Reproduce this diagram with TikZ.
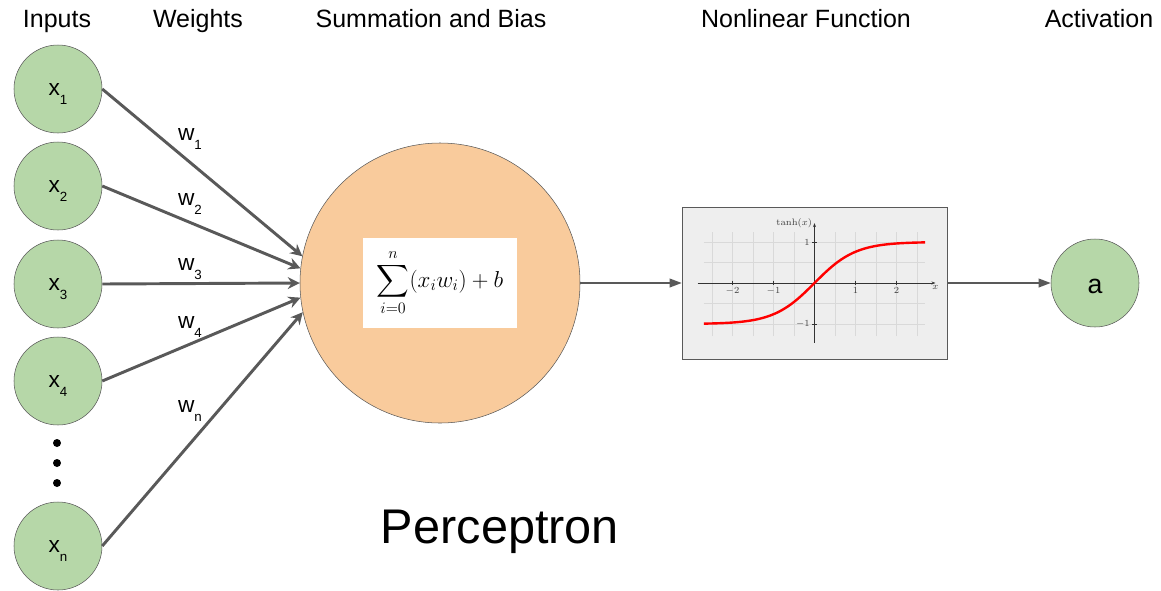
\documentclass[tikz,border=0pt]{standalone}
\usepackage{amsmath}
\usepackage{amsfonts}
\usepackage[no-math]{fontspec}
\setmainfont{Liberation Sans}
\usepackage{tikz}
\usepackage{xcolor}
\usetikzlibrary{arrows.meta}

\definecolor{inputgreen}{HTML}{B6D7A8}
\definecolor{sumorange}{HTML}{F9CB9C}
\definecolor{edgegray}{HTML}{595959}
\definecolor{plotgray}{HTML}{EEEEEE}

\newcommand{\lowsub}[2]{#1\raisebox{-7pt}{\fontsize{10pt}{11pt}\selectfont #2}}

\begin{document}
\begin{tikzpicture}[x=0.75pt, y=0.75pt,
    unit/.style={circle, draw=edgegray, fill=inputgreen, minimum size=66pt, inner sep=0pt, font=\fontsize{17pt}{20pt}\selectfont, text height=9pt, text depth=0pt},
    head/.style={font=\fontsize{18.75pt}{22pt}\selectfont, anchor=base},
    weight/.style={font=\fontsize{17pt}{20pt}\selectfont, anchor=base},
    feed/.style={draw=edgegray, line width=2.2pt, -{Stealth[length=9pt, width=9pt, inset=3pt]}},
    pass/.style={draw=edgegray, line width=1.1pt, -{Triangle[length=9pt, width=6.5pt]}},
    tick/.style={font=\fontsize{7.5pt}{8pt}\selectfont, text=black!75, inner sep=1.5pt}]
\useasboundingbox (0,0) rectangle (1161,-590);

\node[head] (hin) at (57,-27) {Inputs};
\node[head] (hw) at (198,-27) {Weights};
\node[head] (hsum) at (431,-27) {Summation and Bias};
\node[head] (hnl) at (806,-27) {Nonlinear Function};
\node[head] (hact) at (1099,-27) {Activation};

\node[unit] (x1) at (58,-89) {\lowsub{x}{1}};
\node[unit] (x2) at (58,-186) {\lowsub{x}{2}};
\node[unit] (x3) at (58,-284) {\lowsub{x}{3}};
\node[unit] (x4) at (58,-381) {\lowsub{x}{4}};
\node[unit] (xn) at (58,-546) {\lowsub{x}{n}};
\foreach \y in {443,463,483}
    \fill (57,-\y) circle (3pt);

\node[circle, draw=edgegray, fill=sumorange, minimum size=210pt] (sum) at (440,-283) {};
\node[fill=white, minimum width=115.5pt, minimum height=67pt, font=\fontsize{17pt}{20pt}\selectfont] (formula) at (440,-283) {$\displaystyle\sum_{i=0}^{n}(x_iw_i)+b$};

\draw[feed] (x1.east) -- (sum.169.5);
\draw[feed] (x2.east) -- (sum.174);
\draw[feed] (x3.east) -- (sum.180);
\draw[feed] (x4.east) -- (sum.186);
\draw[feed] (xn.east) -- (sum.192);

\node[weight] (w1) at (190,-140) {\lowsub{w}{1}};
\node[weight] (w2) at (190,-205) {\lowsub{w}{2}};
\node[weight] (w3) at (190,-270) {\lowsub{w}{3}};
\node[weight] (w4) at (190,-328) {\lowsub{w}{4}};
\node[weight] (wn) at (190,-412) {\lowsub{w}{n}};

\node[draw=edgegray, fill=plotgray, minimum width=198.75pt, minimum height=114pt, inner sep=0pt] (plot) at (814.5,-283) {};
\begin{scope}[shift={(plot.center)}, x=30.75pt, y=30.75pt]
    \draw[black!15, line width=0.4pt] (-2.7,-1.3) grid[step=0.5] (2.7,1.25);
    \draw[black!80, line width=0.6pt, -{Stealth[length=3pt]}] (-2.85,0) -- (2.95,0) node[tick, below] (xlab) {$x$};
    \draw[black!80, line width=0.6pt, -{Stealth[length=3pt]}] (0,-1.46) -- (0,1.46) node[tick, left] (ylab) {$\tanh(x)$};
    \foreach \t in {-2,-1,1,2}
        \draw[black!80] (\t,0.06) -- (\t,-0.06) node[tick, below] (tx\t) {$\t$};
    \foreach \t in {-1,1}
        \draw[black!80] (0.06,\t) -- (-0.06,\t) node[tick, left] (ty\t) {$\t$};
    \draw[red, line width=1.8pt, domain=-2.7:2.7, samples=80, smooth] plot (\x,{tanh(\x)});
\end{scope}

\node[unit, font=\fontsize{20pt}{24pt}\selectfont, text height=15pt] (act) at (1095,-283) {a};

\draw[pass] (sum.east) -- (plot.west);
\draw[pass] (plot.east) -- (act.west);

\node[font=\fontsize{36.5pt}{42pt}\selectfont, anchor=base] (title) at (500,-543) {Perceptron};
\end{tikzpicture}
\end{document}
